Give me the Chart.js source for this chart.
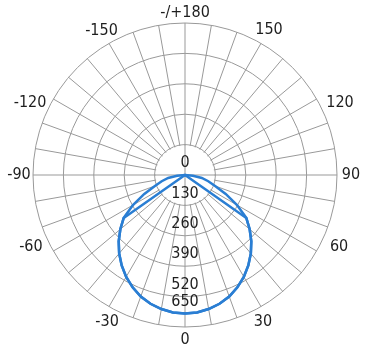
<!DOCTYPE html>
<html>
<head>
<meta charset="utf-8">
<script src="https://cdn.jsdelivr.net/npm/chart.js@4"></script>
<style>
  html, body { margin: 0; padding: 0; background: #fff; }
  #wrap { width: 367px; height: 353px; position: relative; }
</style>
</head>
<body>
<div id="wrap"><canvas id="c"></canvas></div>
<script>
// Angles (degrees), clockwise starting from the bottom (0)
const angles = [0,-5,-10,-15,-20,-25,-30,-35,-40,-45,-50,-55,-60,-65,-70,-75,-80,-85,-90,-95,-100,-105,-110,-115,-120,-125,-130,-135,-140,-145,-150,-155,-160,-165,-170,-175,180,175,170,165,160,155,150,145,140,135,130,125,120,115,110,105,100,95,90,85,80,75,70,65,60,55,50,45,40,35,30,25,20,15,10,5];

// Angle tick labels shown round the outside
const shownAngles = [0,-30,-60,-90,-120,-150,180,150,120,90,60,30];
const shownAngleText = ['0','-30','-60','-90','-120','-150','-/+180','150','120','90','60','30'];

// Radial tick values (cd)
const radialTicks = [0,130,260,390,520,650];

// Luminous intensity, plane 1 (cd)
const seriesA = [592,590,582,570,553,530,503,472,438,401,361,320,257,192,137,103,73,34,
  0,0,0,0,0,0,0,0,0,0,0,0,0,0,0,0,0,0,0,0,0,0,0,0,0,0,0,0,0,0,0,0,0,0,0,0,0,
  34,73,103,137,192,257,320,361,401,438,472,503,530,553,570,582,590];

// Luminous intensity, plane 2 (cd)
const seriesB = [592,590,582,570,553,530,503,472,438,401,361,320,
  0,0,0,0,0,0,0,0,0,0,0,0,0,0,0,0,0,0,0,0,0,0,0,0,0,0,0,0,0,0,0,0,0,0,0,0,0,0,0,0,0,0,0,0,0,0,0,0,0,
  320,361,401,438,472,503,530,553,570,582,590];

const FONT_FAMILY = "'DejaVu Sans Condensed', 'Liberation Sans', sans-serif";
const FONT_SIZE = 16;
const TEXT = '#1e1e1e';
const GRID = '#999999';
const BLUE = '#2a7ed3';

// label placement style: [gap beyond outer ring (px), angular nudge (index steps)]
const angleLabelStyle = {
  '0': [13, 0], '-30': [14, -0.4], '-60': [18, 1], '-90': [14, 0], '-120': [19, -1], '-150': [15, 0],
  '-/+180': [10, 0], '150': [16, 0], '120': [19, 1], '90': [14, 0], '60': [18, -1], '30': [14, 0.4]
};

const innerDisk = {
  id: 'innerDisk',
  beforeDatasetsDraw(chart) {
    const s = chart.scales.r;
    const ctx = chart.ctx;
    const r0 = s.getDistanceFromCenterForValue(radialTicks[1]) - 1;
    ctx.save();
    ctx.fillStyle = '#fff';
    ctx.beginPath();
    ctx.arc(s.xCenter, s.yCenter, r0, 0, Math.PI * 2);
    ctx.fill();
    ctx.strokeStyle = GRID;
    ctx.lineWidth = 1;
    [0, 18, 36, 54].forEach(i => {
      const p = s.getPointPositionForValue(i, radialTicks[1]);
      ctx.beginPath();
      ctx.moveTo(s.xCenter, s.yCenter);
      ctx.lineTo(p.x, p.y);
      ctx.stroke();
    });
    ctx.restore();
  }
};

const textLabels = {
  id: 'textLabels',
  afterDatasetsDraw(chart) {
    const s = chart.scales.r;
    const ctx = chart.ctx;
    ctx.save();
    ctx.font = FONT_SIZE + 'px ' + FONT_FAMILY;
    ctx.fillStyle = TEXT;
    ctx.textAlign = 'center';
    ctx.textBaseline = 'middle';
    // radial (cd) tick labels along the 0 direction
    const n = radialTicks.length;
    radialTicks.forEach((v, k) => {
      const d = s.getDistanceFromCenterForValue(v);
      let y = s.yCenter + d - 12;
      if (k === n - 1) y = s.yCenter + s.getDistanceFromCenterForValue(radialTicks[k - 1]) + 5.5;
      ctx.fillText(String(v), s.xCenter, y);
    });
    // angle labels round the outside
    shownAngles.forEach((a, k) => {
      const txt = shownAngleText[k];
      const st = angleLabelStyle[txt];
      const idx = angles.indexOf(a) + st[1];
      const p = s.getPointPosition(idx, s.drawingArea + st[0]);
      ctx.fillText(txt, p.x, p.y);
    });
    ctx.restore();
  }
};

new Chart(document.getElementById('c'), {
  type: 'radar',
  data: {
    labels: angles,
    datasets: [
      { data: seriesA, borderColor: BLUE, borderWidth: 2.5, pointRadius: 0, fill: false, tension: 0 },
      { data: seriesB, borderColor: BLUE, borderWidth: 2.5, pointRadius: 0, fill: false, tension: 0 }
    ]
  },
  options: {
    responsive: true,
    maintainAspectRatio: false,
    animation: false,
    layout: { padding: { top: 23, bottom: 25, left: 33, right: 29 } },
    plugins: { legend: { display: false }, tooltip: { enabled: false } },
    scales: {
      r: {
        min: 0,
        max: 650,
        startAngle: 180,
        ticks: { stepSize: 130, display: false },
        grid: { color: GRID, lineWidth: 1, circular: true },
        angleLines: {
          color: (ctx) => (ctx.index % 2 === 0 ? GRID : 'rgba(0,0,0,0)'),
          lineWidth: 1
        },
        pointLabels: { display: false }
      }
    }
  },
  plugins: [innerDisk, textLabels]
});
</script>
</body>
</html>
